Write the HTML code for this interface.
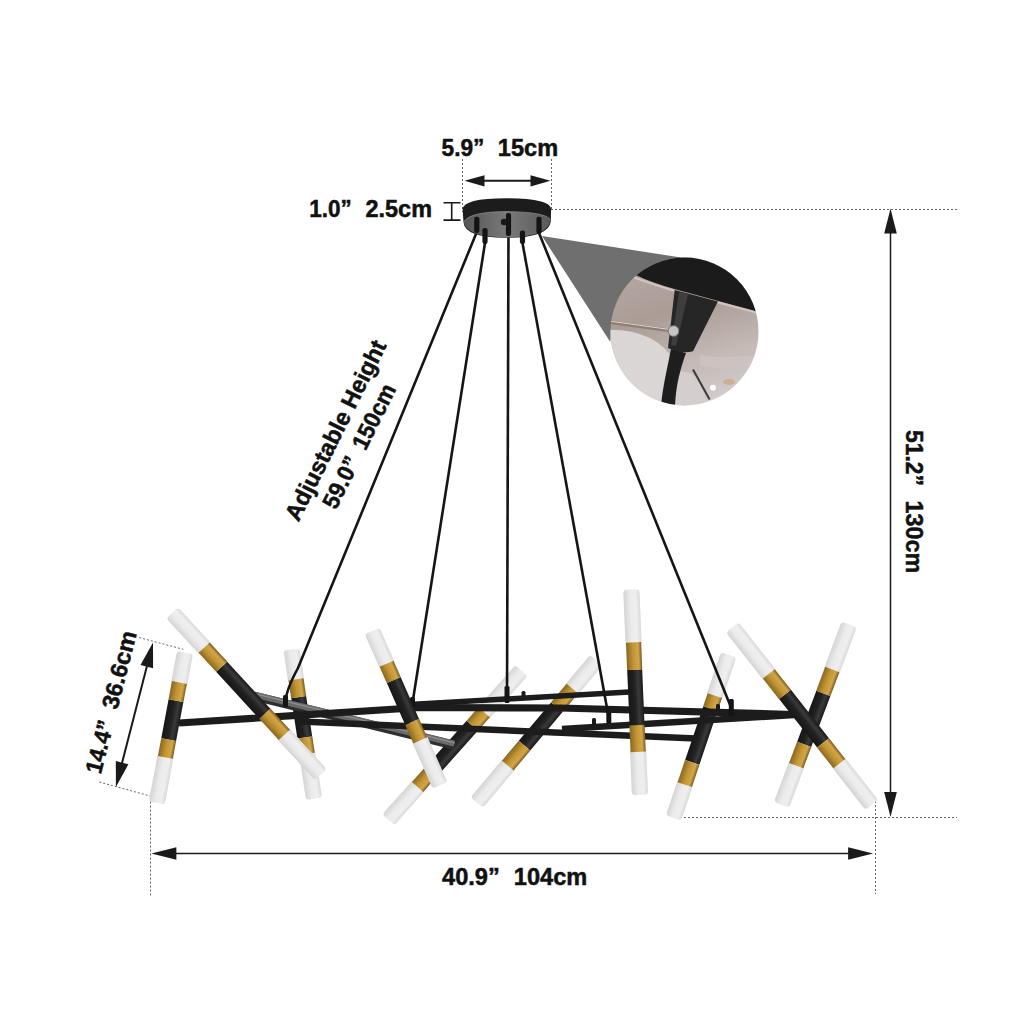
<!DOCTYPE html>
<html><head><meta charset="utf-8"><style>html,body{margin:0;padding:0;background:#fff;}svg{display:block;}</style></head>
<body><svg width="1024" height="1024" viewBox="0 0 1024 1024">

<defs>
<linearGradient id="gw" x1="0" y1="0" x2="0" y2="1">
 <stop offset="0" stop-color="#d9d9d9"/><stop offset="0.25" stop-color="#efefef"/><stop offset="0.6" stop-color="#ebebeb"/><stop offset="1" stop-color="#d4d4d4"/>
</linearGradient>
<linearGradient id="gb" x1="0" y1="0" x2="0" y2="1">
 <stop offset="0" stop-color="#7a5a1c"/><stop offset="0.22" stop-color="#d2a64a"/><stop offset="0.55" stop-color="#c29634"/><stop offset="1" stop-color="#8a6820"/>
</linearGradient>
<linearGradient id="gk" x1="0" y1="0" x2="0" y2="1">
 <stop offset="0" stop-color="#1a1a1a"/><stop offset="0.3" stop-color="#3a3a3a"/><stop offset="0.55" stop-color="#222"/><stop offset="1" stop-color="#161616"/>
</linearGradient>
<linearGradient id="gg" x1="0" y1="0" x2="0" y2="1">
 <stop offset="0" stop-color="#444"/><stop offset="0.5" stop-color="#7a7a7a"/><stop offset="1" stop-color="#3a3a3a"/>
</linearGradient>
<linearGradient id="cbg" x1="0" y1="0" x2="0.3" y2="1">
 <stop offset="0" stop-color="#b8aca8"/><stop offset="0.45" stop-color="#ab9c96"/><stop offset="0.75" stop-color="#c3b9b5"/><stop offset="1" stop-color="#d2cccb"/>
</linearGradient>
<linearGradient id="gcan" x1="0" y1="0" x2="1" y2="0"><stop offset="0" stop-color="#555"/><stop offset="0.5" stop-color="#7a7a7a"/><stop offset="1" stop-color="#5a5a5a"/></linearGradient>
<clipPath id="cc"><circle cx="684.5" cy="331.5" r="74"/></clipPath>
</defs>

<rect width="1024" height="1024" fill="#ffffff"/>
<line x1="462.5" y1="159" x2="462.5" y2="212" stroke="#666" stroke-width="1" stroke-dasharray="2,2" fill="none"/>
<line x1="551.5" y1="159" x2="551.5" y2="209" stroke="#666" stroke-width="1" stroke-dasharray="2,2" fill="none"/>
<line x1="551" y1="209.5" x2="958" y2="209.5" stroke="#666" stroke-width="1" stroke-dasharray="2,2" fill="none"/>
<line x1="680" y1="817.5" x2="957" y2="817.5" stroke="#666" stroke-width="1" stroke-dasharray="2,2" fill="none"/>
<line x1="875.5" y1="797" x2="875.5" y2="894" stroke="#666" stroke-width="1" stroke-dasharray="2,2" fill="none"/>
<line x1="150.5" y1="797.6" x2="150.5" y2="895.5" stroke="#666" stroke-width="1" stroke-dasharray="2,2" fill="none"/>
<line x1="139.3" y1="637.6" x2="183.2" y2="649.3" stroke="#666" stroke-width="1" stroke-dasharray="2,2" fill="none"/>
<line x1="99.3" y1="782" x2="155.9" y2="797.6" stroke="#666" stroke-width="1" stroke-dasharray="2,2" fill="none"/>
<g transform="translate(464.5,180.8) rotate(0.00)"><line x1="18" y1="0" x2="68.0" y2="0" stroke="#1a1a1a" stroke-width="2"/><polygon points="86.0,0 66.0,-5.6 66.0,5.6" fill="#1a1a1a"/><polygon points="0,0 20,-5.6 20,5.6" fill="#1a1a1a"/></g>
<g transform="translate(151.4,853.5) rotate(0.00)"><line x1="23" y1="0" x2="698.7" y2="0" stroke="#1a1a1a" stroke-width="1.7"/><polygon points="721.7,0 696.7,-6.2 696.7,6.2" fill="#1a1a1a"/><polygon points="0,0 25,-6.2 25,6.2" fill="#1a1a1a"/></g>
<g transform="translate(890.5,208.6) rotate(90.00)"><line x1="23" y1="0" x2="585.4" y2="0" stroke="#1a1a1a" stroke-width="1.5"/><polygon points="608.4,0 583.4,-6.3 583.4,6.3" fill="#1a1a1a"/><polygon points="0,0 25,-6.3 25,6.3" fill="#1a1a1a"/></g>
<g transform="translate(153,642.4) rotate(104.40)"><line x1="23" y1="0" x2="126.1866616021687" y2="0" stroke="#1a1a1a" stroke-width="2"/><polygon points="149.1866616021687,0 124.1866616021687,-6.5 124.1866616021687,6.5" fill="#1a1a1a"/><polygon points="0,0 25,-6.5 25,6.5" fill="#1a1a1a"/></g>
<path d="M443.5,202.8 H460.5 M443.5,220.1 H460.5 M451.7,202.8 V220.1" stroke="#1a1a1a" stroke-width="1.6" fill="none"/>
<g transform="translate(291.5,649.4) rotate(81.43)"><rect x="0" y="-8.1" width="33.2" height="16.2" rx="3.5" fill="url(#gw)"/><rect x="102.7" y="-8.1" width="48.3" height="16.2" rx="3.5" fill="url(#gw)"/><rect x="48.3" y="-7.5" width="40.8" height="15.0" fill="url(#gk)"/><rect x="30.2" y="-7.6" width="18.1" height="15.2" fill="url(#gb)"/><rect x="89.1" y="-7.6" width="16.6" height="15.2" fill="url(#gb)"/></g>
<g transform="translate(521.5,670.5) rotate(131.74)"><rect x="0" y="-8.1" width="59.0" height="16.2" rx="3.5" fill="url(#gw)"/><rect x="153.1" y="-8.1" width="47.0" height="16.2" rx="3.5" fill="url(#gw)"/><rect x="74.0" y="-7.5" width="64.0" height="15.0" fill="url(#gk)"/><rect x="56.0" y="-7.6" width="18.0" height="15.2" fill="url(#gb)"/><rect x="138.1" y="-7.6" width="18.0" height="15.2" fill="url(#gb)"/></g>
<g transform="translate(596.3,660.2) rotate(130.03)"><rect x="0" y="-8.1" width="40.2" height="16.2" rx="3.5" fill="url(#gw)"/><rect x="134.6" y="-8.1" width="51.4" height="16.2" rx="3.5" fill="url(#gw)"/><rect x="61.4" y="-7.5" width="50.2" height="15.0" fill="url(#gk)"/><rect x="37.2" y="-7.6" width="24.2" height="15.2" fill="url(#gb)"/><rect x="111.6" y="-7.6" width="26.0" height="15.2" fill="url(#gb)"/></g>
<g transform="translate(728.6,654.8) rotate(108.66)"><rect x="0" y="-8.1" width="46.1" height="16.2" rx="3.5" fill="url(#gw)"/><rect x="134.1" y="-8.1" width="38.1" height="16.2" rx="3.5" fill="url(#gw)"/><rect x="56.8" y="-7.5" width="56.8" height="15.0" fill="url(#gk)"/><rect x="43.1" y="-7.6" width="13.8" height="15.2" fill="url(#gb)"/><rect x="113.7" y="-7.6" width="23.4" height="15.2" fill="url(#gb)"/></g>
<g transform="translate(849.2,624.4) rotate(110.56)"><rect x="0" y="-8.1" width="51.2" height="16.2" rx="3.5" fill="url(#gw)"/><rect x="147.9" y="-8.1" width="44.8" height="16.2" rx="3.5" fill="url(#gw)"/><rect x="73.6" y="-7.5" width="54.6" height="15.0" fill="url(#gk)"/><rect x="48.2" y="-7.6" width="25.4" height="15.2" fill="url(#gb)"/><rect x="128.2" y="-7.6" width="22.7" height="15.2" fill="url(#gb)"/></g>
<g transform="translate(254,696) rotate(13.8)"><rect x="0" y="-4.5" width="206" height="9" fill="#2e2e2e"/><rect x="0" y="-4.5" width="206" height="6" fill="#6a6a6a"/><rect x="0" y="-3" width="206" height="1.2" fill="#8e8e8e"/></g>
<g transform="translate(0,0)">
<polyline points="300,721.5 696,738.5" fill="none" stroke="#1c1c1c" stroke-width="6.5" stroke-linejoin="round"/>
<polyline points="562,729 794,715" fill="none" stroke="#1c1c1c" stroke-width="6.5" stroke-linejoin="round"/>
<polyline points="410,704.5 629,692" fill="none" stroke="#1c1c1c" stroke-width="5.5" stroke-linejoin="round"/>
<polyline points="179,723 420,707.5 560,708 794,714.5" fill="none" stroke="#1c1c1c" stroke-width="7.2" stroke-linejoin="round"/>
</g>
<rect x="521.5" y="691" width="4" height="7" rx="1.5" fill="#1a1a1a"/>
<rect x="592" y="718" width="4" height="7" rx="1.5" fill="#1a1a1a"/>
<rect x="716" y="704" width="4" height="7" rx="1.5" fill="#1a1a1a"/>
<path d="M476.8,232 L298,668 Q286,690 285.5,702" stroke="#151515" stroke-width="2.6" fill="none"/>
<path d="M485,243 L412.5,703" stroke="#151515" stroke-width="2.6" fill="none"/>
<path d="M508.5,230 L507,700" stroke="#151515" stroke-width="2.6" fill="none"/>
<path d="M522.5,243 L608.8,718" stroke="#151515" stroke-width="2.6" fill="none"/>
<path d="M539,233 L731.3,708" stroke="#151515" stroke-width="2.6" fill="none"/>
<rect x="283.0" y="695" width="5" height="12" rx="1.5" fill="#141414"/>
<rect x="410.0" y="697" width="5" height="10" rx="1.5" fill="#141414"/>
<rect x="504.5" y="686" width="5" height="17" rx="1.5" fill="#141414"/>
<rect x="606.3" y="712" width="5" height="11.5" rx="1.5" fill="#141414"/>
<rect x="728.8" y="699" width="5" height="17" rx="1.5" fill="#141414"/>
<g transform="translate(185.0,652.5) rotate(100.61)"><rect x="0" y="-8.1" width="33.5" height="16.2" rx="3.5" fill="url(#gw)"/><rect x="103.6" y="-8.1" width="49.5" height="16.2" rx="3.5" fill="url(#gw)"/><rect x="49.0" y="-7.5" width="39.7" height="15.0" fill="url(#gk)"/><rect x="30.5" y="-7.6" width="18.5" height="15.2" fill="url(#gb)"/><rect x="88.7" y="-7.6" width="17.9" height="15.2" fill="url(#gb)"/></g>
<g transform="translate(172.2,612.9) rotate(47.42)"><rect x="0" y="-8.1" width="50.2" height="16.2" rx="3.5" fill="url(#gw)"/><rect x="162.7" y="-8.1" width="56.8" height="16.2" rx="3.5" fill="url(#gw)"/><rect x="73.1" y="-7.5" width="63.9" height="15.0" fill="url(#gk)"/><rect x="47.2" y="-7.6" width="25.9" height="15.2" fill="url(#gb)"/><rect x="136.9" y="-7.6" width="28.8" height="15.2" fill="url(#gb)"/></g>
<g transform="translate(372.2,631.0) rotate(66.29)"><rect x="0" y="-8.1" width="38.7" height="16.2" rx="3.5" fill="url(#gw)"/><rect x="116.6" y="-8.1" width="52.1" height="16.2" rx="3.5" fill="url(#gw)"/><rect x="53.6" y="-7.5" width="45.7" height="15.0" fill="url(#gk)"/><rect x="35.7" y="-7.6" width="17.9" height="15.2" fill="url(#gb)"/><rect x="99.3" y="-7.6" width="20.2" height="15.2" fill="url(#gb)"/></g>
<g transform="translate(631.3,589.5) rotate(87.58)"><rect x="0" y="-8.1" width="55.9" height="16.2" rx="3.5" fill="url(#gw)"/><rect x="159.5" y="-8.1" width="46.2" height="16.2" rx="3.5" fill="url(#gw)"/><rect x="80.2" y="-7.5" width="55.5" height="15.0" fill="url(#gk)"/><rect x="52.9" y="-7.6" width="27.4" height="15.2" fill="url(#gb)"/><rect x="135.8" y="-7.6" width="26.7" height="15.2" fill="url(#gb)"/></g>
<g transform="translate(732.3,627.4) rotate(51.84)"><rect x="0" y="-8.1" width="62.1" height="16.2" rx="3.5" fill="url(#gw)"/><rect x="170.2" y="-8.1" width="55.6" height="16.2" rx="3.5" fill="url(#gw)"/><rect x="85.3" y="-7.5" width="61.6" height="15.0" fill="url(#gk)"/><rect x="59.1" y="-7.6" width="26.2" height="15.2" fill="url(#gb)"/><rect x="147.0" y="-7.6" width="26.2" height="15.2" fill="url(#gb)"/></g>
<path d="M462.6,209.5 Q463,198.3 506.5,198.3 Q550.8,198.3 551.1,209.5 L550.8,221.5 Q549,237.8 506,237.8 Q464.5,237.8 463.5,222 Z" fill="#1c1c1c"/>
<path d="M463.8,221.8 Q470,211.8 506,211.6 Q545,212 550.4,219.5 Q549.5,237.2 506,237.4 Q465.5,237 463.8,221.8 Z" fill="url(#gcan)"/>
<path d="M463.8,221.8 Q470,211.8 506,211.6 Q545,212 550.4,219.5" fill="none" stroke="#8a8a8a" stroke-width="0.8"/>
<rect x="474.2" y="216.7" width="5.2" height="16.30000000000001" rx="2.2" fill="#141414"/>
<rect x="482.4" y="228" width="5.2" height="16" rx="2.2" fill="#141414"/>
<rect x="505.9" y="212.9" width="5.2" height="23.099999999999994" rx="2.2" fill="#141414"/>
<rect x="519.9" y="230.6" width="5.2" height="13.400000000000006" rx="2.2" fill="#141414"/>
<rect x="536.4" y="216.7" width="5.2" height="17.30000000000001" rx="2.2" fill="#141414"/>
<circle cx="504" cy="222" r="3.2" fill="#181818"/>
<polygon points="542,236 681,257.5 650,268 625,292 612,320 610.3,342" fill="#6f6f6f"/>
<g clip-path="url(#cc)">
<rect x="600" y="250" width="170" height="170" fill="url(#cbg)"/>
<path d="M600,330 Q630,328 650,338 Q668,348 672,360 L664,410 L600,410 Z" fill="#dad6d5"/>
<path d="M676,372 Q700,368 705,400 L676,410 Z" fill="#d4cfce"/>
<path d="M700,355 Q735,360 770,352 L770,368 Q735,372 700,366 Z" fill="#cdc3c0" opacity="0.8"/>
<path d="M600,250 L770,250 L770,313 L755.2,311 Q700,296 674.7,289 Q650,282 637.4,275.7 L600,262 Z" fill="#1b1b1b"/>
<path d="M634,277.5 Q655,285 674.7,291 Q700,298 770,316" fill="none" stroke="#cfc5c1" stroke-width="2"/>
<path d="M674.7,290 L717.9,301.5 L693,351.3 Q681,354 668,348 Z" fill="#262626"/>
<path d="M679,292 L688,294 L676,346 L671,345 Z" fill="#3e3e3e"/>
<path d="M671,349 C667,370 663,385 661,406 L675,406 C676,385 680,370 686,353 Z" fill="#1e1e1e"/>
<line x1="605" y1="321.5" x2="670" y2="330.5" stroke="#8e7e74" stroke-width="3.6"/>
<line x1="605" y1="320.5" x2="670" y2="329.5" stroke="#ddd5cc" stroke-width="1"/>
<circle cx="673.5" cy="331" r="5.3" fill="#c8c6c4" stroke="#7a7a7a" stroke-width="1"/>
<line x1="693" y1="369.5" x2="709.6" y2="399.4" stroke="#3a3a3a" stroke-width="2"/>
<circle cx="712.9" cy="387.8" r="3" fill="#ffffff"/>
<ellipse cx="729" cy="382" rx="6" ry="3" fill="#c9a070" opacity="0.6"/>
</g>
<text x="441.5" y="156" font-size="23.5" font-family="Liberation Sans, sans-serif" font-weight="bold" fill="#111" stroke="#111" stroke-width="0.5" textLength="43" lengthAdjust="spacingAndGlyphs" text-anchor="start">5.9”</text>
<text x="497.8" y="156" font-size="23.5" font-family="Liberation Sans, sans-serif" font-weight="bold" fill="#111" stroke="#111" stroke-width="0.5" textLength="60.3" lengthAdjust="spacingAndGlyphs" text-anchor="start">15cm</text>
<text x="309.2" y="216.7" font-size="23.5" font-family="Liberation Sans, sans-serif" font-weight="bold" fill="#111" stroke="#111" stroke-width="0.5" textLength="42.5" lengthAdjust="spacingAndGlyphs" text-anchor="start">1.0”</text>
<text x="365.5" y="216.7" font-size="23.5" font-family="Liberation Sans, sans-serif" font-weight="bold" fill="#111" stroke="#111" stroke-width="0.5" textLength="66.5" lengthAdjust="spacingAndGlyphs" text-anchor="start">2.5cm</text>
<text x="442" y="884.8" font-size="23.5" font-family="Liberation Sans, sans-serif" font-weight="bold" fill="#111" stroke="#111" stroke-width="0.5" textLength="57.8" lengthAdjust="spacingAndGlyphs" text-anchor="start">40.9”</text>
<text x="513.8" y="884.8" font-size="23.5" font-family="Liberation Sans, sans-serif" font-weight="bold" fill="#111" stroke="#111" stroke-width="0.5" textLength="73.5" lengthAdjust="spacingAndGlyphs" text-anchor="start">104cm</text>
<text x="905.6" y="430" font-size="23.5" font-family="Liberation Sans, sans-serif" font-weight="bold" fill="#111" stroke="#111" stroke-width="0.5" textLength="56" lengthAdjust="spacingAndGlyphs" text-anchor="start" transform="rotate(90 905.6 430)">51.2”</text>
<text x="905.6" y="500.5" font-size="23.5" font-family="Liberation Sans, sans-serif" font-weight="bold" fill="#111" stroke="#111" stroke-width="0.5" textLength="72.8" lengthAdjust="spacingAndGlyphs" text-anchor="start" transform="rotate(90 905.6 500.5)">130cm</text>
<g transform="translate(100.8,774.8) rotate(-75.7)"><text x="0" y="0" font-size="23.5" font-family="Liberation Sans, sans-serif" font-weight="bold" fill="#111" stroke="#111" stroke-width="0.5" textLength="54" lengthAdjust="spacingAndGlyphs">14.4”</text></g>
<g transform="translate(100.8,774.8) rotate(-75.7)"><text x="66.5" y="0" font-size="23.5" font-family="Liberation Sans, sans-serif" font-weight="bold" fill="#111" stroke="#111" stroke-width="0.5" textLength="79.5" lengthAdjust="spacingAndGlyphs">36.6cm</text></g>
<g transform="translate(298.6,522.5) rotate(-63.5)"><text x="0" y="0" font-size="23.5" font-family="Liberation Sans, sans-serif" font-weight="bold" fill="#111" stroke="#111" stroke-width="0.5" textLength="198" lengthAdjust="spacingAndGlyphs">Adjustable Height</text></g>
<g transform="translate(336.0,510.5) rotate(-63.5)"><text x="0" y="0" font-size="23.5" font-family="Liberation Sans, sans-serif" font-weight="bold" fill="#111" stroke="#111" stroke-width="0.5" textLength="55" lengthAdjust="spacingAndGlyphs">59.0”</text></g>
<g transform="translate(336.0,510.5) rotate(-63.5)"><text x="66" y="0" font-size="23.5" font-family="Liberation Sans, sans-serif" font-weight="bold" fill="#111" stroke="#111" stroke-width="0.5" textLength="70" lengthAdjust="spacingAndGlyphs">150cm</text></g>
</svg></body></html>
